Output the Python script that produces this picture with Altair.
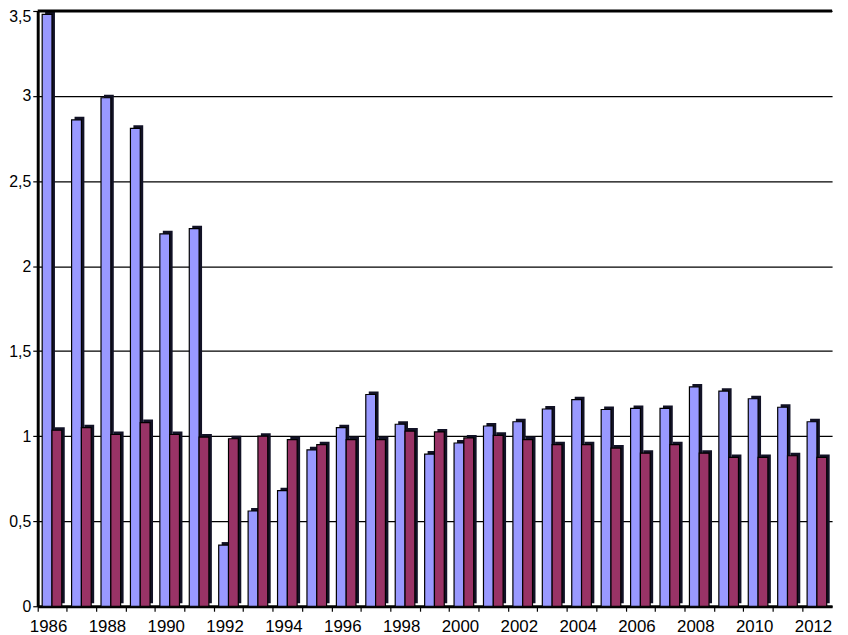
import altair as alt
import pandas as pd

years = [str(y) for y in range(1986, 2013)]
series_names = ["Série 1", "Série 2"]
blue_values = [3.48, 2.86, 2.99, 2.81, 2.19, 2.22, 0.36, 0.56, 0.68, 0.92,
               1.05, 1.245, 1.07, 0.895, 0.96, 1.06, 1.085, 1.16, 1.215, 1.157,
               1.163, 1.163, 1.29, 1.265, 1.22, 1.17, 1.085]
maroon_values = [1.035, 1.05, 1.01, 1.08, 1.01, 0.995, 0.985, 1.0, 0.98, 0.95,
                 0.98, 0.98, 1.03, 1.025, 0.99, 1.005, 0.98, 0.95, 0.95, 0.93,
                 0.90, 0.95, 0.90, 0.875, 0.875, 0.885, 0.875]
y_ticks = [0, 0.5, 1, 1.5, 2, 2.5, 3, 3.5]
colors = ["#9999FF", "#993366"]

# slot keys: per year -> blue slot, maroon slot, empty gap slot
slots = []
for yr in years:
    slots += [yr + "-1", yr + "-2", yr + "-3"]
year_starts = [yr + "-1" for yr in years]

rows = []
for i, yr in enumerate(years):
    rows.append({"slot": yr + "-1", "series": series_names[0], "value": blue_values[i]})
    rows.append({"slot": yr + "-2", "series": series_names[1], "value": maroon_values[i]})
df = pd.DataFrame(rows)

FONT = "Liberation Sans"

x_enc = alt.X(
    "slot:N",
    sort=slots,
    scale=alt.Scale(domain=slots, paddingInner=0, paddingOuter=0),
    axis=alt.Axis(
        title=None,
        values=year_starts,
        labelAngle=0,
        bandPosition=0,
        labelExpr="toNumber(slice(datum.value, 0, 4)) % 2 == 0 ? slice(datum.value, 0, 4) : ''",
        labelOffset=6,
        labelFont=FONT,
        labelFontSize=17,
        labelColor="black",
        labelPadding=7,
        tickColor="black",
        tickSize=5,
        tickWidth=1.2,
        domainColor="black",
        domainWidth=3,
        grid=False,
        labelOverlap=False,
    ),
)
y_enc = alt.Y(
    "value:Q",
    scale=alt.Scale(domain=[0, 3.5], nice=False, zero=True),
    axis=alt.Axis(
        title=None,
        values=y_ticks,
        labelExpr="replace(toString(datum.value), '.', ',')",
        labelFont=FONT,
        labelFontSize=16,
        labelColor="black",
        labelPadding=2,
        labelOffset={"condition": {"test": "datum.value >= 3.5", "value": 6}, "value": 0},
        tickColor="black",
        tickSize=5,
        tickWidth=1.2,
        domainColor="black",
        domainWidth=3,
        grid=True,
        gridColor="black",
        gridWidth=1.3,
    ),
)

base = alt.Chart(df).encode(x=x_enc, y=y_enc)

shadow = base.mark_bar(color="#121226", xOffset=7.5, yOffset=-3, y2Offset=0)
front = base.mark_bar(stroke="black", strokeWidth=1.2, xOffset=4.5).encode(
    color=alt.Color("series:N", scale=alt.Scale(domain=series_names, range=colors), legend=None)
)

top_rule = alt.Chart(pd.DataFrame({"v": [3.5]})).mark_rule(color="black", strokeWidth=3).encode(
    y=alt.Y("v:Q")
)

chart = alt.layer(shadow, front, top_rule).properties(
    width=802,
    height=601,
    autosize=alt.AutoSizeParams(type="none"),
    padding={"left": 30, "top": 0, "right": 8, "bottom": 26},
    background="white",
).configure_view(stroke=None)

chart.save("out.html", embed_options={"renderer": "svg", "actions": False})
